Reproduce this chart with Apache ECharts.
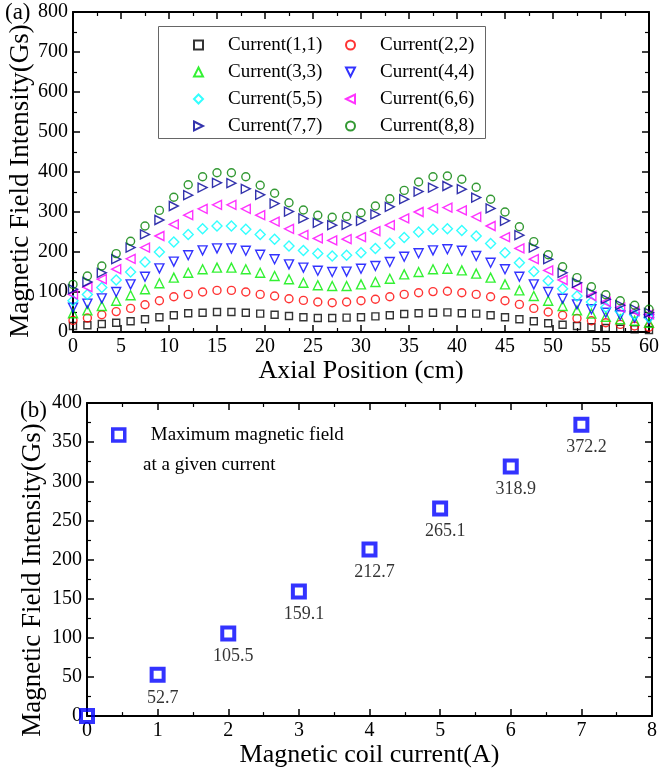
<!DOCTYPE html>
<html>
<head>
<meta charset="utf-8">
<script src="https://cdn.jsdelivr.net/npm/echarts@6/dist/echarts.min.js"></script>
<style>
  html, body { margin: 0; padding: 0; background: #fff; }
  #chart { width: 662px; height: 769px; }
</style>
</head>
<body>
<div id="chart"></div>
<script>
// Panel (a): field profile along the axis for eight coil current settings
const axialPositions = [0, 1.5, 3, 4.5, 6, 7.5, 9, 10.5, 12, 13.5, 15, 16.5, 18, 19.5, 21, 22.5, 24, 25.5, 27, 28.5,
  30, 31.5, 33, 34.5, 36, 37.5, 39, 40.5, 42, 43.5, 45, 46.5, 48, 49.5, 51, 52.5, 54, 55.5, 57, 58.5, 60];

const current11 = [15, 17, 20, 23, 27, 32, 37, 42, 47, 48, 50, 50, 48, 46, 43, 40, 37, 35, 35, 36,
  37, 39, 42, 45, 47, 48, 49, 47, 46, 42, 37, 32, 27, 22, 18, 15, 12, 10, 8, 7, 5];
const current22 = [29, 35, 43, 51, 59, 68, 78, 88, 94, 100, 104, 104, 100, 94, 90, 83, 79, 75, 73, 75,
  78, 82, 88, 94, 98, 101, 102, 98, 94, 88, 78, 69, 59, 50, 42, 34, 28, 23, 19, 15, 12];
const current33 = [47, 54, 65, 78, 92, 107, 122, 136, 148, 157, 161, 161, 157, 148, 140, 132, 123, 117, 115, 115,
  119, 125, 133, 144, 150, 157, 158, 154, 146, 136, 119, 104, 90, 78, 65, 54, 46, 38, 32, 28, 23];
const current44 = [61, 71, 84, 100, 119, 138, 159, 176, 192, 204, 209, 209, 203, 193, 182, 169, 161, 153, 150, 151,
  158, 165, 175, 188, 197, 204, 207, 203, 190, 173, 157, 138, 119, 100, 83, 69, 57, 48, 42, 36, 32];
const current55 = [78, 94, 111, 130, 150, 175, 200, 225, 244, 258, 265, 265, 257, 244, 232, 215, 204, 196, 190, 192,
  198, 209, 222, 236, 250, 257, 258, 254, 240, 221, 198, 173, 151, 128, 108, 90, 75, 62, 52, 43, 36];
const current66 = [94, 112, 132, 157, 183, 211, 240, 269, 292, 308, 318, 318, 308, 292, 276, 258, 243, 234, 229, 232,
  237, 252, 267, 284, 300, 309, 311, 304, 288, 265, 237, 209, 182, 154, 130, 111, 90, 75, 61, 52, 44];
const current77 = [107, 125, 148, 182, 211, 244, 280, 315, 342, 361, 373, 372, 358, 343, 321, 301, 284, 273, 267, 268,
  278, 294, 313, 332, 351, 361, 365, 357, 336, 309, 278, 242, 211, 182, 148, 123, 98, 82, 67, 57, 48];
const current88 = [119, 140, 165, 196, 227, 265, 304, 337, 368, 388, 398, 398, 388, 367, 347, 323, 305, 292, 287, 289,
  298, 315, 333, 354, 375, 388, 390, 382, 362, 332, 300, 263, 226, 193, 163, 136, 113, 93, 78, 67, 57];

const profileNames = ['Current(1,1)', 'Current(2,2)', 'Current(3,3)', 'Current(4,4)',
  'Current(5,5)', 'Current(6,6)', 'Current(7,7)', 'Current(8,8)'];
const profileValues = [current11, current22, current33, current44, current55, current66, current77, current88];

// Panel (b): peak field versus coil current
const coilCurrents = [0, 1, 2, 3, 4, 5, 6, 7];
const peakFields = [0, 52.7, 105.5, 159.1, 212.7, 265.1, 318.9, 372.2];

const FONT = "'Liberation Serif', 'Times New Roman', serif";

// Triangle outlines pointing up / down / left / right
const TRI_UP = 'path://M5,0 L10,10 L0,10 Z';
const TRI_DOWN = 'path://M0,0 L10,0 L5,10 Z';
const TRI_LEFT = 'path://M0,5 L10,0 L10,10 Z';
const TRI_RIGHT = 'path://M0,0 L10,5 L0,10 Z';

const markerStyles = [
  { symbol: 'rect', size: 7, color: '#000000' },
  { symbol: 'circle', size: 8, color: '#ff0000' },
  { symbol: TRI_UP, size: 9, color: '#00ee00' },
  { symbol: TRI_DOWN, size: 9, color: '#0000ff' },
  { symbol: 'diamond', size: 10, color: '#00ffff' },
  { symbol: TRI_LEFT, size: 9, color: '#ff00ff' },
  { symbol: TRI_RIGHT, size: 9, color: '#000099' },
  { symbol: 'circle', size: 8, color: '#008000' }
];

function frameAxis(gridIndex, position, min, max, interval, withLabels, name, nameGap) {
  return {
    type: 'value',
    gridIndex: gridIndex,
    position: position,
    min: min,
    max: max,
    interval: interval,
    name: name || '',
    nameLocation: 'middle',
    nameGap: nameGap || 0,
    nameTextStyle: { fontFamily: FONT, fontSize: 26, color: '#000' },
    axisLine: { show: true, onZero: false, lineStyle: { color: '#000', width: 2 } },
    axisTick: { show: true, inside: true, length: 7, lineStyle: { color: '#000', width: 1.5 } },
    minorTick: { show: true, splitNumber: 2, length: 4, lineStyle: { color: '#000', width: 1.2 } },
    splitLine: { show: false },
    minorSplitLine: { show: false },
    axisLabel: {
      show: withLabels,
      fontFamily: FONT,
      fontSize: 20,
      color: '#000',
      margin: 5
    }
  };
}

const profileSeries = profileNames.map((name, i) => ({
  name: name,
  type: 'scatter',
  xAxisIndex: 0,
  yAxisIndex: 0,
  clip: false,
  symbol: markerStyles[i].symbol,
  symbolSize: markerStyles[i].size,
  itemStyle: {
    color: 'rgba(0,0,0,0)',
    borderColor: markerStyles[i].color,
    borderWidth: 1.4
  },
  emphasis: { disabled: true },
  data: axialPositions.map((x, j) => [x, profileValues[i][j]])
}));

const peakSeries = {
  name: 'Maximum magnetic field',
  type: 'scatter',
  xAxisIndex: 2,
  yAxisIndex: 2,
  symbol: 'rect',
  symbolSize: 12,
  itemStyle: { color: 'rgba(0,0,0,0)', borderColor: '#0000ff', borderWidth: 4 },
  emphasis: { disabled: true },
  label: {
    show: true,
    position: 'bottom',
    distance: 6,
    offset: [5, 0],
    fontFamily: FONT,
    fontSize: 18,
    color: '#000',
    formatter: p => p.value[1].toFixed(1)
  },
  data: coilCurrents.map((c, i) => (
    peakFields[i] === 0
      ? { value: [c, peakFields[i]], label: { show: false } }
      : [c, peakFields[i]]
  ))
};

const legendText = { fontFamily: FONT, fontSize: 19, color: '#000', lineHeight: 20, padding: [0, 0, 0, 20] };

function legendEntries(indices) {
  return indices.map(i => ({ name: profileNames[i], icon: markerStyles[i].symbol }));
}

const option = {
  animation: false,
  backgroundColor: '#fff',
  title: [
    { text: '(a)', left: 5, top: 1, padding: 0, textStyle: { fontFamily: FONT, fontSize: 23, fontWeight: 'normal', color: '#000' } },
    { text: '(b)', left: 20, top: 399, padding: 0, textStyle: { fontFamily: FONT, fontSize: 23, fontWeight: 'normal', color: '#000' } }
  ],
  grid: [
    { left: 73, top: 12, width: 581, height: 320 },
    { left: 87, top: 403, width: 565, height: 318 }
  ],
  xAxis: [
    frameAxis(0, 'bottom', 0, 60, 5, true, 'Axial Position (cm)', 26),
    frameAxis(0, 'top', 0, 60, 5, false),
    frameAxis(1, 'bottom', 0, 8, 1, true, 'Magnetic coil current(A)', 22),
    frameAxis(1, 'top', 0, 8, 1, false)
  ],
  yAxis: [
    frameAxis(0, 'left', 0, 800, 100, true),
    frameAxis(0, 'right', 0, 800, 100, false),
    frameAxis(1, 'left', 0, 400, 50, true),
    frameAxis(1, 'right', 0, 400, 50, false)
  ],
  legend: [
    {
      orient: 'vertical',
      left: 193,
      top: 35,
      padding: 0,
      itemWidth: 9,
      itemHeight: 9,
      itemGap: 7,
      selectedMode: false,
      textStyle: legendText,
      data: legendEntries([0, 2, 4, 6])
    },
    {
      orient: 'vertical',
      left: 345,
      top: 35,
      padding: 0,
      itemWidth: 9,
      itemHeight: 9,
      itemGap: 7,
      selectedMode: false,
      textStyle: legendText,
      data: legendEntries([1, 3, 5, 7])
    },
    {
      orient: 'vertical',
      left: 111,
      top: 425,
      padding: 0,
      itemWidth: 12,
      itemHeight: 12,
      selectedMode: false,
      itemStyle: { color: 'rgba(0,0,0,0)', borderColor: '#0000ff', borderWidth: 3.5 },
      textStyle: { fontFamily: FONT, fontSize: 19, color: '#000', lineHeight: 20, padding: [0, 0, 0, 21] },
      data: ['Maximum magnetic field']
    }
  ],
  graphic: [
    {
      type: 'rect',
      shape: { x: 158.5, y: 26.5, width: 327, height: 112 },
      style: { fill: 'none', stroke: '#666', lineWidth: 1 },
      z: 1
    },
    {
      type: 'text',
      left: 143,
      top: 456,
      style: { text: 'at a given current', font: "19px 'Liberation Serif', serif", fill: '#000' }
    },
    {
      type: 'text',
      x: 21,
      y: 181,
      rotation: Math.PI / 2,
      style: {
        text: 'Magnetic Field Intensity(Gs)',
        font: "27px 'Liberation Serif', serif",
        fill: '#000',
        align: 'center',
        verticalAlign: 'middle'
      }
    },
    {
      type: 'text',
      x: 33,
      y: 580,
      rotation: Math.PI / 2,
      style: {
        text: 'Magnetic Field Intensity(Gs)',
        font: "27px 'Liberation Serif', serif",
        fill: '#000',
        align: 'center',
        verticalAlign: 'middle'
      }
    }
  ],
  series: profileSeries.concat([peakSeries])
};

const chart = echarts.init(document.getElementById('chart'), null, { renderer: 'canvas' });
chart.setOption(option);
</script>
</body>
</html>
